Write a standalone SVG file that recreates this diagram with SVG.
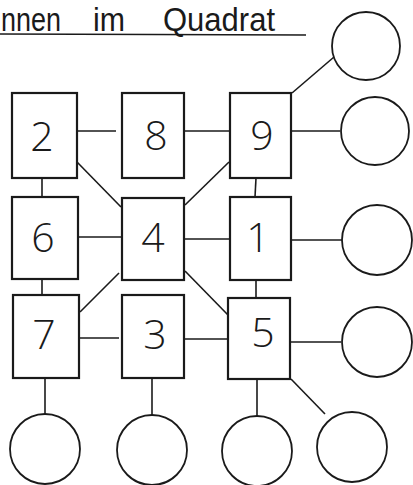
<svg xmlns="http://www.w3.org/2000/svg" width="413" height="485" viewBox="0 0 413 485">
<style>
.box{fill:#fff;stroke:#1a1a1a;stroke-width:2.2}
.circ{fill:#fff;stroke:#1a1a1a;stroke-width:1.8}
.ln{stroke:#1a1a1a;stroke-width:1.6;fill:none}
.num{font-family:"Open Sans","Liberation Sans",sans-serif;font-weight:300;font-size:41px;fill:#1a1a1a;text-anchor:middle}
.ttl{font-family:"Liberation Sans",sans-serif;font-size:33px;fill:#1a1a1a}
</style>
<rect width="413" height="485" fill="#fff"/>
<g id="title">
<text class="ttl" y="31"><tspan x="1" textLength="60" lengthAdjust="spacingAndGlyphs">nnen</tspan><tspan x="93" textLength="32" lengthAdjust="spacingAndGlyphs">im</tspan><tspan x="163" textLength="112" lengthAdjust="spacingAndGlyphs">Quadrat</tspan></text>
<line x1="0" y1="34" x2="306" y2="35" class="ln"/>
</g>
<g id="connectors">
<line class="ln" x1="77" y1="131" x2="116" y2="131"/>
<line class="ln" x1="184" y1="131" x2="230" y2="131"/>
<line class="ln" x1="42" y1="178" x2="42" y2="197"/>
<line class="ln" x1="256" y1="178" x2="255" y2="197"/>
<line class="ln" x1="77" y1="162" x2="121" y2="207"/>
<line class="ln" x1="185" y1="205" x2="229" y2="162"/>
<line class="ln" x1="78" y1="237" x2="122" y2="237"/>
<line class="ln" x1="184" y1="239" x2="230" y2="239"/>
<line class="ln" x1="42" y1="279" x2="42" y2="295"/>
<line class="ln" x1="256" y1="280" x2="256" y2="298"/>
<line class="ln" x1="80" y1="312" x2="119" y2="273"/>
<line class="ln" x1="185" y1="271" x2="228" y2="315"/>
<line class="ln" x1="79" y1="338" x2="119" y2="338"/>
<line class="ln" x1="184" y1="339" x2="227" y2="339"/>
<line class="ln" x1="292" y1="93" x2="334" y2="57"/>
<line class="ln" x1="292" y1="131" x2="340" y2="131"/>
<line class="ln" x1="291" y1="240" x2="342" y2="240"/>
<line class="ln" x1="291" y1="342" x2="341" y2="342"/>
<line class="ln" x1="45" y1="378" x2="45" y2="415"/>
<line class="ln" x1="152" y1="378" x2="152" y2="416"/>
<line class="ln" x1="257" y1="379" x2="257" y2="416"/>
<line class="ln" x1="291" y1="379" x2="325" y2="414"/>
</g>
<g id="n2"><rect class="box" x="12" y="93" width="65" height="85"/><text class="num" x="42" y="151">2</text></g>
<g id="n8"><rect class="box" x="122" y="93" width="62" height="85"/><text class="num" x="156" y="150">8</text></g>
<g id="n9"><rect class="box" x="230" y="93" width="61" height="85"/><text class="num" x="262" y="150">9</text></g>
<g id="n6"><rect class="box" x="12" y="197" width="66" height="82"/><text class="num" x="43" y="252">6</text></g>
<g id="n4"><rect class="box" x="122" y="198" width="62" height="82"/><text class="num" x="153" y="252">4</text></g>
<g id="n1"><rect class="box" x="230" y="197" width="61" height="83"/><text class="num" x="258" y="252">1</text></g>
<g id="n7"><rect class="box" x="13" y="295" width="66" height="83"/><text class="num" x="44" y="349">7</text></g>
<g id="n3"><rect class="box" x="122" y="295" width="62" height="83"/><text class="num" x="155" y="349">3</text></g>
<g id="n5"><rect class="box" x="228" y="298" width="62" height="81"/><text class="num" x="263" y="347">5</text></g>
<g id="c1"><circle class="circ" cx="366" cy="46" r="34"/></g>
<g id="c2"><circle class="circ" cx="375" cy="131" r="34"/></g>
<g id="c3"><circle class="circ" cx="377" cy="240" r="35"/></g>
<g id="c4"><circle class="circ" cx="377" cy="342" r="35"/></g>
<g id="c5"><circle class="circ" cx="45" cy="449" r="35"/></g>
<g id="c6"><circle class="circ" cx="152" cy="450" r="35"/></g>
<g id="c7"><circle class="circ" cx="257" cy="451" r="35"/></g>
<g id="c8"><circle class="circ" cx="352" cy="447" r="35"/></g>
</svg>
